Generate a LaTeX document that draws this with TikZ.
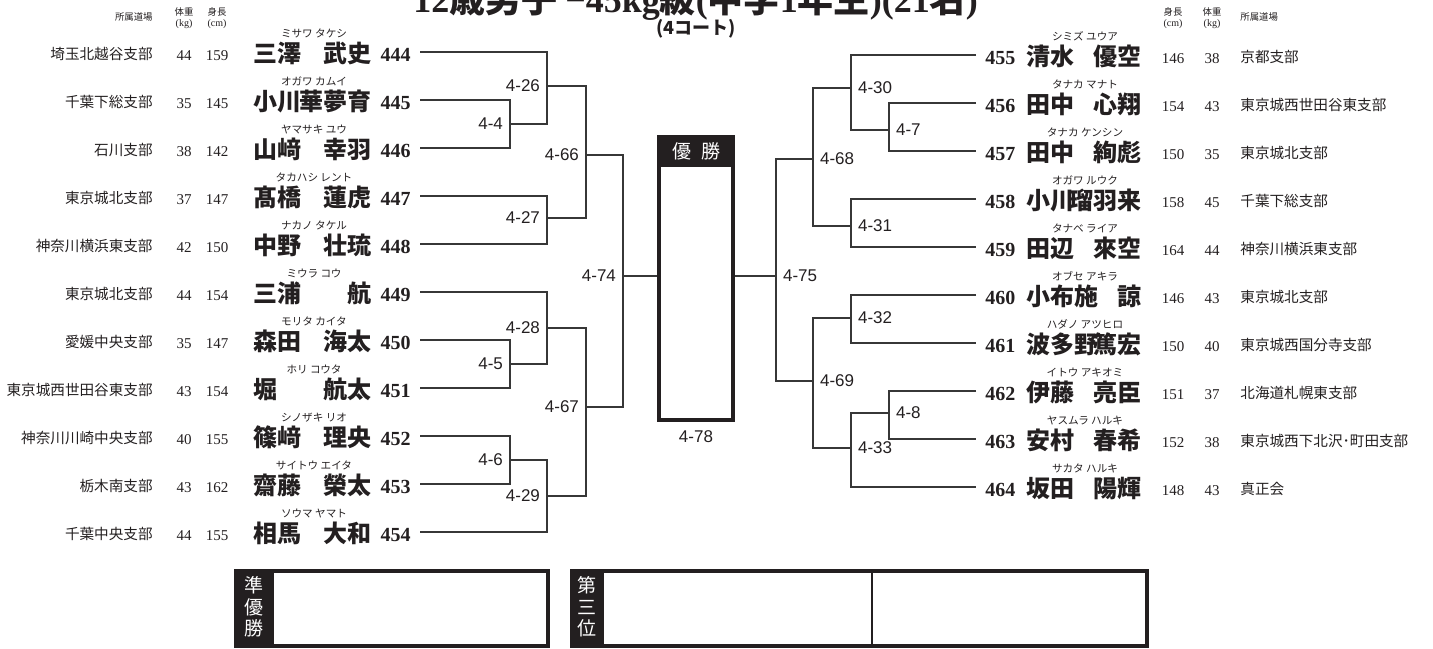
\documentclass[tikz,border=0pt]{standalone}
\usepackage{fontspec}
\setmainfont{Liberation Serif}
\newfontfamily\jpfont{Noto Sans CJK JP}
\newfontfamily\labfont{Liberation Sans}
\newcommand{\jb}{\jpfont\bfseries}
\usetikzlibrary{positioning}
\definecolor{inkblack}{RGB}{35,31,32}
\definecolor{linegray}{RGB}{55,55,55}

\begin{document}
\begin{tikzpicture}[x=0.5pt,y=-0.5pt]
\tikzstyle{bracket}=[draw=linegray,line width=0.75pt]
\tikzstyle{dojo}=[inner sep=0,text=inkblack,font=\jpfont\fontsize{7.3}{8}\selectfont]
\tikzstyle{body}=[inner sep=0,text=inkblack,font=\fontsize{7.5}{8}\selectfont]
\tikzstyle{kana}=[inner sep=0,text=inkblack,font=\jpfont\fontsize{5.3}{6}\selectfont]
\tikzstyle{fighter}=[inner sep=0,text=inkblack,font=\jb\fontsize{12}{13}\selectfont]
\tikzstyle{entry}=[inner xsep=4.5pt,inner ysep=0,text height=10pt,text depth=1pt,text=inkblack,font=\bfseries\fontsize{10}{11}\selectfont]
\tikzstyle{match}=[text=inkblack,font=\labfont\fontsize{8.5}{9}\selectfont]
\tikzstyle{headj}=[inner sep=0,text=inkblack,font=\jpfont\fontsize{4.7}{5}\selectfont]
\tikzstyle{headu}=[inner sep=0,text=inkblack,font=\fontsize{5}{5}\selectfont]
\tikzstyle{resbox}=[draw=inkblack,line width=2pt,minimum height=37.5pt,inner sep=0]
\tikzstyle{strip}=[fill=inkblack,text=white,align=center,inner sep=0,minimum height=37.5pt,font=\jpfont\fontsize{9.5}{10.8}\selectfont]
\useasboundingbox (0,0) rectangle (1433,648);

% title
\node[inner sep=0,text=inkblack,font=\fontsize{18}{19}\selectfont,anchor=base west] (title) at (413,12)
  {{\bfseries 12}{\jb 歳男子}\hspace{4pt}{\bfseries −45kg}{\jb 級}{\bfseries (}{\jb 中学}{\bfseries 1}{\jb 年生}{\bfseries )(21}{\jb 名}{\bfseries )}};
\node[inner sep=0,text=inkblack,font=\jb\fontsize{9}{10}\selectfont] (court) at (696,29) {(4コート)};

% column heads
\node[headj,anchor=base east] (hdL) at (153,20) {所属道場};
\node[headj,anchor=base] (hwL) at (184,15) {体重};
\node[headu,anchor=base] (hwuL) at (184,26) {(kg)};
\node[headj,anchor=base] (hhL) at (217,15) {身長};
\node[headu,anchor=base] (hhuL) at (217,26) {(cm)};
\node[headj,anchor=base] (hhR) at (1173,15) {身長};
\node[headu,anchor=base] (hhuR) at (1173,26) {(cm)};
\node[headj,anchor=base] (hwR) at (1212,15) {体重};
\node[headu,anchor=base] (hwuR) at (1212,26) {(kg)};
\node[headj,anchor=base west] (hdR) at (1240,20) {所属道場};

% left block
\foreach \n/\dj/\w/\h/\kana/\fa/\gi [count=\rw from 0] in {
  444/埼玉北越谷支部/44/159/ミサワ タケシ/三澤/武史,
  445/千葉下総支部/35/145/オガワ カムイ/小川/華夢育,
  446/石川支部/38/142/ヤマサキ ユウ/山﨑/幸羽,
  447/東京城北支部/37/147/タカハシ レント/髙橋/蓮虎,
  448/神奈川横浜東支部/42/150/ナカノ タケル/中野/壮琉,
  449/東京城北支部/44/154/ミウラ コウ/三浦/航,
  450/愛媛中央支部/35/147/モリタ カイタ/森田/海太,
  451/東京城西世田谷東支部/43/154/ホリ コウタ/堀/航太,
  452/神奈川川崎中央支部/40/155/シノザキ リオ/篠﨑/理央,
  453/栃木南支部/43/162/サイトウ エイタ/齋藤/榮太,
  454/千葉中央支部/44/155/ソウマ ヤマト/相馬/大和}{
  \pgfmathsetmacro\yy{52+48*\rw}
  \node[dojo,anchor=base east] (d\n) at (153,\yy+7) {\dj};
  \node[body,anchor=base] (w\n) at (184,\yy+8) {\w};
  \node[body,anchor=base] (h\n) at (217,\yy+8) {\h};
  \node[kana,anchor=base] (k\n) at (314,\yy-15) {\kana};
  \node[fighter,anchor=base west] (f\n) at (253,\yy+10) {\fa};
  \node[fighter,anchor=base east] (g\n) at (372,\yy+10) {\gi};
  \node[entry,anchor=east] (n\n) at (420,\yy) {\n};
}

% right block
\foreach \n/\fa/\gi/\kana/\h/\w/\dj [count=\rw from 0] in {
  455/清水/優空/シミズ ユウア/146/38/京都支部,
  456/田中/心翔/タナカ マナト/154/43/東京城西世田谷東支部,
  457/田中/絢彪/タナカ ケンシン/150/35/東京城北支部,
  458/小川/瑠羽来/オガワ ルウク/158/45/千葉下総支部,
  459/田辺/來空/タナベ ライア/164/44/神奈川横浜東支部,
  460/小布施/諒/オブセ アキラ/146/43/東京城北支部,
  461/波多野/篤宏/ハダノ アツヒロ/150/40/東京城西国分寺支部,
  462/伊藤/亮臣/イトウ アキオミ/151/37/北海道札幌東支部,
  463/安村/春希/ヤスムラ ハルキ/152/38/東京城西下北沢･町田支部,
  464/坂田/陽輝/サカタ ハルキ/148/43/真正会}{
  \pgfmathsetmacro\yy{55+48*\rw}
  \node[entry,anchor=west] (n\n) at (976,\yy) {\n};
  \node[fighter,anchor=base west] (f\n) at (1026,\yy+10) {\fa};
  \node[fighter,anchor=base east] (g\n) at (1142,\yy+10) {\gi};
  \node[kana,anchor=base] (k\n) at (1085,\yy-15) {\kana};
  \node[body,anchor=base] (h\n) at (1173,\yy+8) {\h};
  \node[body,anchor=base] (w\n) at (1212,\yy+8) {\w};
  \node[dojo,anchor=base west] (d\n) at (1240,\yy+7) {\dj};
}

% champion box
\node[draw=inkblack,line width=2pt,minimum width=37pt,minimum height=141.5pt,inner sep=0] (win) at (696,278.5) {};
\node[fill=inkblack,text=white,minimum width=37pt,minimum height=16pt,anchor=north,inner sep=0,font=\jpfont\fontsize{9.5}{10}\selectfont] (winhead) at (win.north) {優\hspace{5pt}勝};
\node[match,below=1pt of win] (l78) {4-78};

% match points, left
\coordinate (m4) at (510,124);
\coordinate (m26) at (547,86);
\coordinate (m27) at (547,218);
\coordinate (m66) at (586,155);
\coordinate (m5) at (510,364);
\coordinate (m28) at (547,328);
\coordinate (m6) at (510,460);
\coordinate (m29) at (547,496);
\coordinate (m67) at (586,407);
\coordinate (m74) at (623,276);
% match points, right
\coordinate (m7) at (889,130);
\coordinate (m30) at (851,88);
\coordinate (m31) at (851,226);
\coordinate (m68) at (813,159);
\coordinate (m32) at (851,318);
\coordinate (m8) at (889,413);
\coordinate (m33) at (851,448);
\coordinate (m69) at (813,381);
\coordinate (m75) at (776,276);

\draw[bracket] (n445.east) -| (m4) |- (n446.east);
\draw[bracket] (n444.east) -| (m26) |- (m4);
\draw[bracket] (n447.east) -| (m27) |- (n448.east);
\draw[bracket] (m26) -| (m66) |- (m27);
\draw[bracket] (n450.east) -| (m5) |- (n451.east);
\draw[bracket] (n449.east) -| (m28) |- (m5);
\draw[bracket] (n452.east) -| (m6) |- (n453.east);
\draw[bracket] (m6) -| (m29) |- (n454.east);
\draw[bracket] (m28) -| (m67) |- (m29);
\draw[bracket] (m66) -| (m74) |- (m67);
\draw[bracket] (m74) -- (m74 -| win.west);

\draw[bracket] (n456.west) -| (m7) |- (n457.west);
\draw[bracket] (n455.west) -| (m30) |- (m7);
\draw[bracket] (n458.west) -| (m31) |- (n459.west);
\draw[bracket] (m30) -| (m68) |- (m31);
\draw[bracket] (n460.west) -| (m32) |- (n461.west);
\draw[bracket] (n462.west) -| (m8) |- (n463.west);
\draw[bracket] (m8) -| (m33) |- (n464.west);
\draw[bracket] (m32) -| (m69) |- (m33);
\draw[bracket] (m68) -| (m75) |- (m69);
\draw[bracket] (m75) -- (m75 -| win.east);

% match labels
\foreach \m in {4,26,27,66,5,28,6,29,67,74}
  \node[match,anchor=east] (l\m) at (m\m) {4-\m};
\foreach \m in {7,30,31,68,32,8,33,69,75}
  \node[match,anchor=west] (l\m) at (m\m) {4-\m};

% result boxes
\node[resbox,minimum width=156pt,anchor=north west] (second) at (234,569) {};
\node[strip,minimum width=20pt,anchor=north west] (secondtag) at (second.north west) {準\\優\\勝};
\node[resbox,minimum width=287.5pt,anchor=north west] (third) at (570,569) {};
\node[strip,minimum width=17pt,anchor=north west] (thirdtag) at (third.north west) {第\\三\\位};
\coordinate (thirdsplit) at (872,0);
\draw[draw=inkblack,line width=1pt] (thirdsplit |- third.north) -- (thirdsplit |- third.south);
\end{tikzpicture}
\end{document}
